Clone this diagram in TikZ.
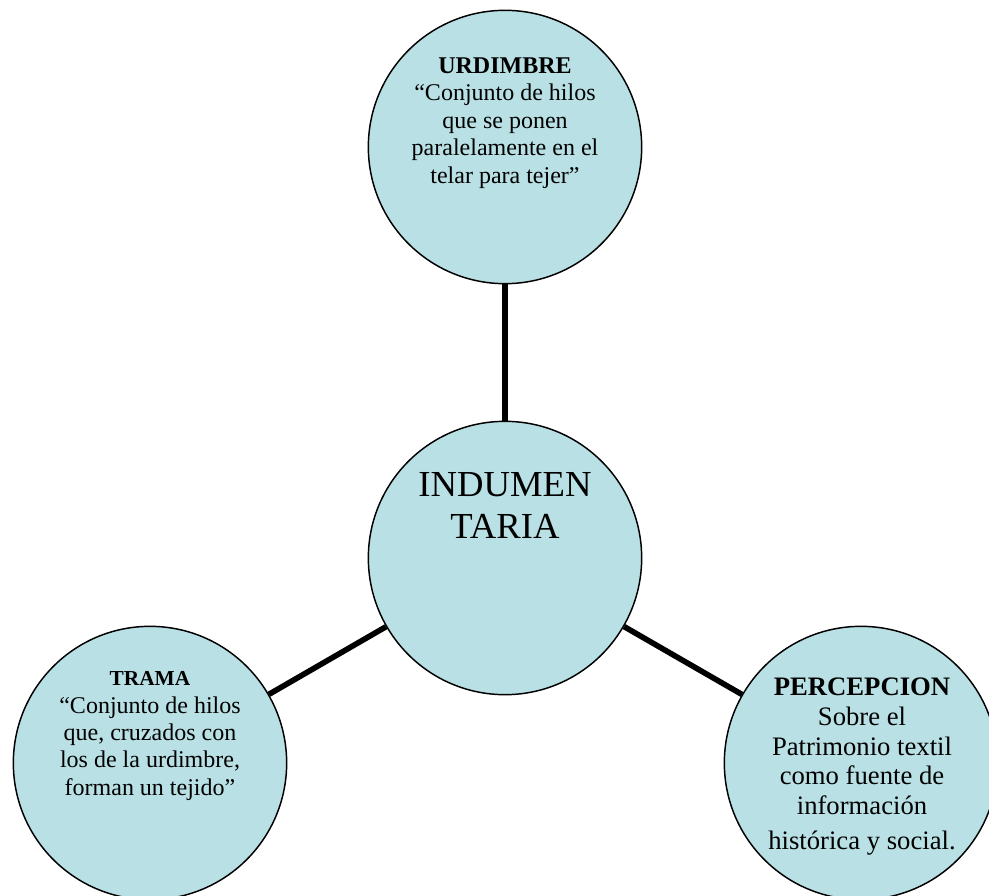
\documentclass[tikz,border=0pt]{standalone}
\usepackage{fontspec}
\setmainfont{Liberation Serif}
\definecolor{celeste}{RGB}{185,224,228}
\begin{document}
\begin{tikzpicture}[x=.75pt, y=-.75pt,
  tema/.style={circle, draw, line width=1.1pt, fill=celeste, minimum size=205pt, inner sep=0pt},
  texto/.style={anchor=base, align=center, inner sep=0pt},
  enlace/.style={line width=4.2pt}]
\useasboundingbox (0,0) rectangle (989,896);
\node[tema](urdimbre) at (505,147){};
\node[tema](indumentaria) at (505,558){};
\node[tema](trama) at (150,763){};
\node[tema](percepcion) at (861,763){};
\draw[enlace](urdimbre)--(indumentaria);
\draw[enlace](indumentaria)--(trama);
\draw[enlace](indumentaria)--(percepcion);
% textos: anclados en la linea base de la ultima linea
\node[texto, font=\fontsize{18}{20.6}\selectfont](urdimbre-txt) at (505,183)
  {\textbf{URDIMBRE}\\“Conjunto de hilos\\que se ponen\\paralelamente en el\\telar para tejer”};
\node[texto, font=\fontsize{27.5}{30.8}\selectfont](indumentaria-txt) at (505,538)
  {INDUMEN\\TARIA};
\node[texto, font=\fontsize{18}{20.5}\selectfont](trama-txt) at (150,795)
  {{\fontsize{16}{20.5}\selectfont\textbf{TRAMA}}\\“Conjunto de hilos\\que, cruzados con\\los de la urdimbre,\\forman un tejido”};
\node[texto, font=\fontsize{20}{22.3}\selectfont](percepcion-txt) at (862,849)
  {\textbf{PERCEPCION}\\Sobre el\\Patrimonio textil\\como fuente de\\información\\[3.5pt]histórica y social.};
\end{tikzpicture}
\end{document}
